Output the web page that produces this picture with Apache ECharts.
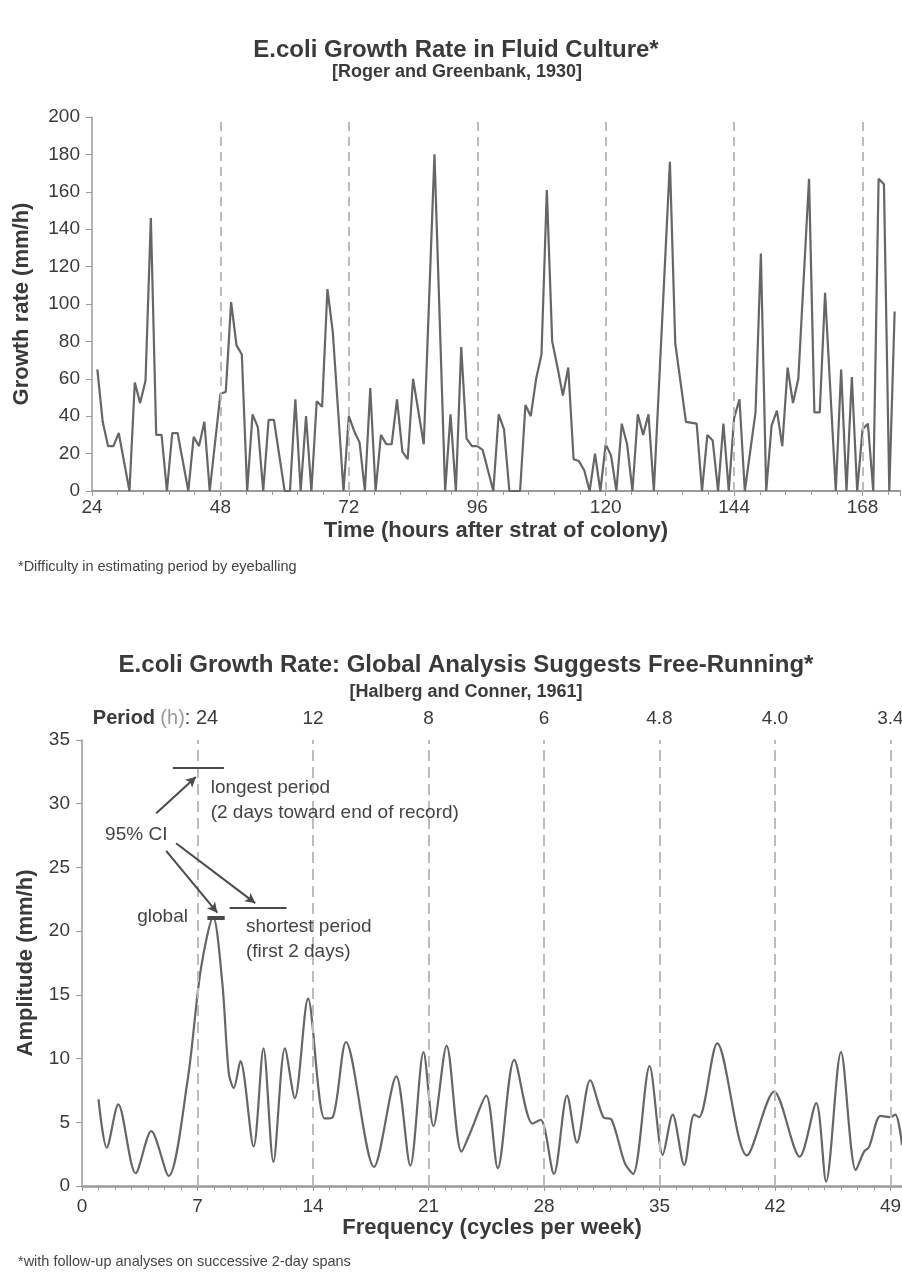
<!DOCTYPE html>
<html><head><meta charset="utf-8">
<script src="https://cdn.jsdelivr.net/npm/echarts@6/dist/echarts.min.js"></script>
<style>html,body{margin:0;padding:0;background:#fff}#c{width:902px;height:1278px}</style>
</head><body><div id="c"></div>
<script>
// ---- Top chart: growth rate (mm/h) vs time (hours after start of colony)
const hours = [25,26,27,28,29,31,32,33,34,35,36,37,38,39,40,42,43,44,45,46,48,49,50,51,52,53,54,55,56,57,58,60,61,62,63,64,65,66,67,68,69,71,72,73,74,75,76,77,78,79,80,81,82,83,84,86,88,90,91,92,93,94,95,96,97,99,100,101,102,104,105,106,107,108,109,110,111,112,113,114,115,116,117,118,119,120,121,122,123,124,125,126,127,128,129,132,133,135,137,138,139,140,141,142,143,144,145,146,148,149,150,151,152,153,154,155,156,158,159,160,161,163,164,165,166,167,168,169,170,171,172,173,174];
const rates = [65,37,24,24,31,0,58,47,59,146,30,30,0,31,31,0,29,24,37,0,52,53,101,78,73,0,41,34,0,38,38,0,0,49,0,40,0,48,45,108,85,0,40,32,26,0,55,0,30,25,25,49,21,17,60,25,180,0,41,0,77,28,24,24,22,0,41,33,0,0,46,40,60,73,161,80,66,51,66,17,16,11,0,20,0,25,19,0,36,25,0,41,30,41,0,176,79,37,36,0,30,27,0,36,0,39,49,0,42,127,0,35,43,24,66,47,60,167,42,42,106,0,65,0,61,0,33,36,0,167,164,0,96];
const dayMarks = [48,72,96,120,144,168];

// ---- Bottom chart: amplitude (mm/h) vs frequency (cycles per week)
const freq = [1.0,1.5,2.2,3.25,4.2,5.25,6.4,7.2,7.95,8.5,8.9,9.2,9.6,10.4,11.0,11.6,12.3,12.9,13.7,14.7,15.2,16.0,17.7,19.05,19.9,20.7,21.3,22.1,23.0,23.6,24.5,25.2,26.2,27.3,27.8,28.6,29.4,30.0,30.8,31.6,32.1,32.9,33.4,34.4,35.2,35.8,36.5,37.1,37.4,38.5,40.3,41.95,43.5,44.5,45.1,46.0,46.9,47.4,47.7,48.4,48.95,49.3,49.7];
const amp = [6.8,3.0,6.4,1.0,4.3,0.8,8.3,17.0,21.1,16.0,8.8,7.7,9.8,3.1,10.8,1.9,10.8,6.9,14.7,5.3,5.4,11.3,1.5,8.6,1.6,10.5,4.7,11.0,2.7,4.4,7.1,1.4,9.9,4.9,5.2,0.95,7.1,3.4,8.3,5.4,5.2,1.8,0.95,9.4,2.45,5.6,1.65,5.6,5.4,11.2,2.4,7.4,2.3,6.5,0.35,10.5,1.25,2.7,3.05,5.5,5.4,5.6,3.2];
const weekMarks = [7,14,21,28,35,42,49];
const periodFreqs = [7,14,21,28,35,42,49];
const periodLabels = ['24','12','8','6','4.8','4.0','3.4'];

// 95% CI bars and arrows (data coordinates: frequency, amplitude)
const ciLongest = [[5.5,32.8],[8.6,32.8]];
const ciShortest = [[8.95,21.8],[12.4,21.8]];
const ciGlobal = [[7.6,21.05],[8.65,21.05]];
const arrowLongest = [[4.5,29.25],[6.9,32.1]];
const arrowGlobal = [[5.1,26.3],[8.2,21.45]];
const arrowShortest = [[5.7,26.9],[10.5,22.2]];

const FONT = '"Liberation Sans", Arial, sans-serif';
const TXT = '#3a3a3a';
const AX = '#9a9a9a';

const chart = echarts.init(document.getElementById('c'), null, {renderer:'canvas'});

function txt(text, x, y, size, weight, align, color){
  return {type:'text', x:x, y:y, silent:true,
    style:{text:text, fontSize:size, fontWeight:weight||'normal', fontFamily:FONT,
      fill:color||TXT, align:align||'center', verticalAlign:'middle'}};
}

const lineSeg = (pts, arrow, width) => [
  {coord:pts[0], symbol:'none'},
  {coord:pts[1], symbol: arrow ? 'arrow' : 'none', symbolSize: arrow ? [8,10] : 0,
   lineStyle:{type:'solid', color:'#4a4a4a', width:width}}
];

const annLabel = (coord, text, pos) => ({
  coord: coord, symbolSize: 0,
  label:{show:true, formatter:text, position:pos, distance:0, fontSize:19, fontFamily:FONT,
    color:'#444', lineHeight:25, align: pos==='left' ? 'right' : 'left'}
});

const option = {
  animation:false,
  backgroundColor:'#fff',
  textStyle:{fontFamily:FONT},
  graphic:[
    txt('E.coli Growth Rate in Fluid Culture*', 456, 50, 24, 'bold'),
    txt('[Roger and Greenbank, 1930]', 457, 72, 18, 'bold'),
    txt('*Difficulty in estimating period by eyeballing', 18, 567, 14.5, 'normal', 'left', '#444'),
    txt('E.coli Growth Rate: Global Analysis Suggests Free-Running*', 466, 665, 24, 'bold'),
    txt('[Halberg and Conner, 1961]', 466, 692, 18, 'bold'),
    txt('*with follow-up analyses on successive 2-day spans', 18, 1262, 14.5, 'normal', 'left', '#444')
  ],
  grid:[
    {left:92, top:117, width:808, height:374, outerBoundsMode:'none', containLabel:false},
    {left:82, top:740, width:820, height:446, outerBoundsMode:'none', containLabel:false}
  ],
  xAxis:[
    {type:'value', gridIndex:0, min:24, max:175, interval:24,
     name:'Time (hours after strat of colony)', nameLocation:'middle', nameGap:29,
     nameTextStyle:{fontSize:22, fontWeight:'bold', color:TXT, fontFamily:FONT},
     axisLine:{show:true, onZero:false, lineStyle:{color:AX, width:2}},
     axisTick:{show:true, length:5, lineStyle:{color:AX}},
     minorTick:{show:true, splitNumber:5, length:4, lineStyle:{color:AX}},
     axisLabel:{fontSize:19, color:TXT, margin:7, showMaxLabel:false, fontFamily:FONT},
     splitLine:{show:false}},
    {type:'value', gridIndex:1, min:0, max:49.7, interval:7,
     name:'Frequency (cycles per week)', nameLocation:'middle', nameGap:30,
     nameTextStyle:{fontSize:22, fontWeight:'bold', color:TXT, fontFamily:FONT},
     axisLine:{show:true, onZero:false, lineStyle:{color:AX, width:2.5}},
     axisTick:{show:true, length:5, lineStyle:{color:AX}},
     minorTick:{show:true, splitNumber:7, length:4, lineStyle:{color:AX}},
     axisLabel:{fontSize:19, color:TXT, margin:11, showMaxLabel:false, fontFamily:FONT},
     splitLine:{show:false}},
    {type:'value', gridIndex:1, position:'top', min:0, max:49.7, interval:7,
     axisLine:{show:false}, axisTick:{show:false}, splitLine:{show:false},
     axisLabel:{fontSize:19, color:TXT, margin:12, showMaxLabel:false, fontFamily:FONT,
       formatter:function(v){
         const i = periodFreqs.indexOf(v);
         if (i < 0) return '';
         if (i === 0) return '{b|Period} {g|(h)}{n|: ' + periodLabels[0] + '}{pad| }';
         return periodLabels[i];
       },
       rich:{
         b:{fontSize:20, fontWeight:'bold', color:TXT, fontFamily:FONT},
         g:{fontSize:20, color:'#9a9a9a', fontFamily:FONT},
         n:{fontSize:20, color:TXT, fontFamily:FONT},
         pad:{width:84, fontSize:20}
       }}}
  ],
  yAxis:[
    {type:'value', gridIndex:0, min:0, max:200, interval:20,
     name:'Growth rate (mm/h)', nameLocation:'middle', nameGap:59,
     nameTextStyle:{fontSize:22, fontWeight:'bold', color:TXT, fontFamily:FONT},
     axisLine:{show:true, lineStyle:{color:AX, width:1.5}},
     axisTick:{show:true, length:6, lineStyle:{color:AX}},
     axisLabel:{fontSize:19, color:TXT, margin:12, fontFamily:FONT},
     splitLine:{show:false}},
    {type:'value', gridIndex:1, min:0, max:35, interval:5,
     name:'Amplitude (mm/h)', nameLocation:'middle', nameGap:45,
     nameTextStyle:{fontSize:22, fontWeight:'bold', color:TXT, fontFamily:FONT},
     axisLine:{show:true, lineStyle:{color:AX, width:1.5}},
     axisTick:{show:true, length:6, lineStyle:{color:AX}},
     axisLabel:{fontSize:19, color:TXT, margin:12, fontFamily:FONT},
     splitLine:{show:false}}
  ],
  series:[
    {type:'line', xAxisIndex:0, yAxisIndex:0, showSymbol:false, symbol:'none',
     lineStyle:{color:'#666', width:2.2}, z:3,
     data: hours.map((h,i)=>[h, rates[i]]),
     markLine:{silent:true, symbol:'none', animation:false, label:{show:false},
       lineStyle:{type:[9,6], color:'#bcbcbc', width:2},
       data: dayMarks.map(d=>({xAxis:d}))}},
    {type:'line', xAxisIndex:1, yAxisIndex:1, showSymbol:false, symbol:'none', smooth:0.3,
     lineStyle:{color:'#666', width:2.2}, z:3,
     data: freq.map((f,i)=>[f, amp[i]]),
     markLine:{silent:true, symbol:'none', animation:false, label:{show:false},
       lineStyle:{type:[11,6], color:'#bcbcbc', width:2},
       data: weekMarks.map(d=>({xAxis:d})).concat([
         lineSeg(ciLongest, false, 2),
         lineSeg(ciShortest, false, 2),
         lineSeg(ciGlobal, false, 4),
         lineSeg(arrowLongest, true, 2),
         lineSeg(arrowGlobal, true, 2),
         lineSeg(arrowShortest, true, 2)
       ])},
     markPoint:{silent:true, animation:false, symbol:'circle', symbolSize:0,
       data:[
         annLabel([7.8,30.25], 'longest period\n(2 days toward end of record)', 'right'),
         annLabel([1.4,27.55], '95% CI', 'right'),
         annLabel([6.42,21.1], 'global', 'left'),
         annLabel([9.94,19.4], 'shortest period\n(first 2 days)', 'right')
       ]}}
  ]
};
chart.setOption(option);
</script>
</body></html>
